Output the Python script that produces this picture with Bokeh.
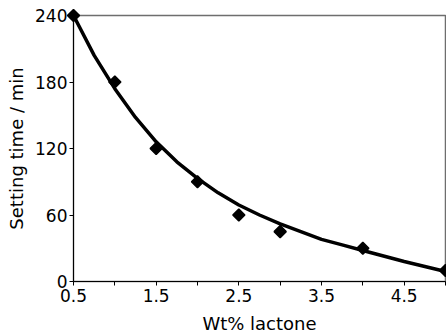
import math
from bokeh.plotting import figure
from bokeh.models import Range1d, FixedTicker
from bokeh.embed import file_html
from bokeh.resources import INLINE

# measured data
wt_lactone = [0.5, 1.0, 1.5, 2.0, 2.5, 3.0, 4.0, 5.0]
setting_time = [240, 180, 120, 90, 60, 45, 30, 10]

# fitted curve
fit_x = [0.5, 0.75, 1.0, 1.25, 1.5, 1.75, 2.0, 2.25, 2.5, 2.75, 3.0, 3.25,
         3.5, 3.75, 4.0, 4.25, 4.5, 4.75, 5.0]
fit_y = [240, 204, 174, 148, 126, 108, 93, 80, 69, 60, 52, 45,
         38, 33, 28, 23, 18, 13.5, 9]

x_ticks = [0.5, 1.5, 2.5, 3.5, 4.5]
x_minor = [1.0, 2.0, 3.0, 4.0, 5.0]
y_ticks = [0, 60, 120, 180, 240]

FONT = "DejaVu Sans"

p = figure(width=446, height=336, output_backend="svg", toolbar_location=None,
           x_range=Range1d(0.5, 5.0), y_range=Range1d(0, 240),
           min_border_left=73, min_border_right=1, min_border_top=15,
           min_border_bottom=54)
p.grid.visible = False
p.outline_line_color = "#6e6e6e"
p.outline_line_width = 1.5
p.background_fill_color = "white"
p.border_fill_color = "white"

p.line(fit_x, fit_y, line_color="black", line_width=3.5)
p.scatter(wt_lactone, setting_time, marker="square", size=8.5, angle=math.pi / 4,
          fill_color="black", line_color="black", line_width=1.5,
          level="overlay")

p.xaxis.ticker = FixedTicker(ticks=x_ticks, minor_ticks=x_minor)
p.yaxis.ticker = FixedTicker(ticks=y_ticks)
p.xaxis.axis_label = "Wt% lactone"
p.yaxis.axis_label = "Setting time / min"

for ax in (p.xaxis, p.yaxis):
    ax.axis_line_color = "black"
    ax.axis_line_width = 1
    ax.major_tick_line_color = "black"
    ax.minor_tick_line_color = "black"
    ax.major_tick_out = 4
    ax.major_tick_in = 0
    ax.minor_tick_out = 4
    ax.minor_tick_in = 0
    ax.major_label_text_font = FONT
    ax.major_label_text_font_size = "17px"
    ax.major_label_text_color = "black"
    ax.axis_label_text_font = FONT
    ax.axis_label_text_font_size = "18px"
    ax.axis_label_text_font_style = "normal"
    ax.axis_label_text_color = "black"

p.yaxis.minor_tick_line_color = None
p.xaxis.major_label_standoff = 3
p.yaxis.major_label_standoff = 2
p.xaxis.axis_label_standoff = 8
p.yaxis.axis_label_standoff = 5

open("out.html", "w").write(file_html(p, INLINE))
